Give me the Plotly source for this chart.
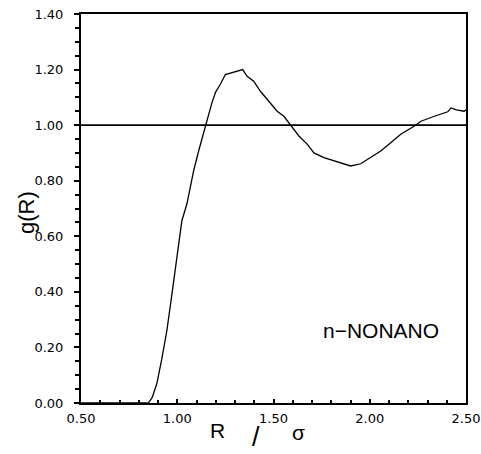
import plotly.graph_objects as go

# g(R)
r_vals = [0.50, 0.60, 0.70, 0.80, 0.85, 0.87, 0.894, 0.92, 0.946, 0.972, 1.00, 1.024,
          1.05, 1.085, 1.111, 1.146, 1.18, 1.20, 1.224, 1.25, 1.276, 1.31, 1.34, 1.363,
          1.397, 1.432, 1.476, 1.519, 1.554, 1.589, 1.632, 1.676, 1.71, 1.762, 1.831,
          1.87, 1.901, 1.953, 2.005, 2.057, 2.109, 2.161, 2.23, 2.266, 2.336, 2.405,
          2.422, 2.45, 2.49, 2.50]
g_vals = [0.0, 0.0, 0.0, 0.0, 0.0, 0.02, 0.07, 0.16, 0.26, 0.39, 0.53, 0.656,
          0.716, 0.835, 0.907, 1.0, 1.08, 1.12, 1.147, 1.182, 1.188, 1.195, 1.20, 1.176,
          1.158, 1.122, 1.086, 1.05, 1.032, 1.002, 0.961, 0.931, 0.90, 0.883, 0.868,
          0.862, 0.853, 0.861, 0.883, 0.907, 0.937, 0.967, 0.996, 1.014, 1.032, 1.048,
          1.062, 1.055, 1.05, 1.055]

ref_x = [0.50, 2.50]
ref_y = [1.0, 1.0]

x_ticks = [0.5, 1.0, 1.5, 2.0, 2.5]
y_ticks = [0.0, 0.2, 0.4, 0.6, 0.8, 1.0, 1.2, 1.4]

font = "DejaVu Sans"

fig = go.Figure()
fig.add_trace(go.Scatter(x=ref_x, y=ref_y, mode="lines",
                         line=dict(color="black", width=1.8), showlegend=False))
fig.add_trace(go.Scatter(x=r_vals, y=g_vals, mode="lines",
                         line=dict(color="black", width=1.3), showlegend=False))

fig.update_layout(
    width=481, height=454,
    margin=dict(l=81, r=15, t=14, b=51),
    paper_bgcolor="white", plot_bgcolor="white",
    font=dict(family=font, color="black", size=13),
    xaxis=dict(range=[0.5, 2.5], tickvals=x_ticks, ticktext=["0.50", "1.00", "1.50", "2.00", "2.50"],
               showgrid=False, zeroline=False, showline=True, linecolor="black", linewidth=2,
               mirror=True, ticks="inside", ticklen=4, tickwidth=1.5, tickcolor="black",
               automargin=False, ticklabelstandoff=2,
               minor=dict(dtick=0.1, ticks="inside", ticklen=3, tickcolor="black")),
    yaxis=dict(range=[0, 1.4], tickvals=y_ticks,
               ticktext=["0.00", "0.20", "0.40", "0.60", "0.80", "1.00", "1.20", "1.40"],
               showgrid=False, zeroline=False, showline=True, linecolor="black", linewidth=2,
               mirror=True, ticks="outside", ticklen=5, tickwidth=1.5, tickcolor="black",
               automargin=False, ticklabelstandoff=8,
               minor=dict(dtick=0.05, ticks="outside", ticklen=4, tickcolor="black")),
)

# axis titles placed by hand, like the original drawing
fig.add_annotation(text="R", x=1.21, y=-0.106, xref="x", yref="paper", showarrow=False,
                   font=dict(family="Liberation Sans", size=21))
fig.add_annotation(text="/", x=1.41, y=-0.13, xref="x", yref="paper", showarrow=False,
                   font=dict(family="Liberation Sans", size=27))
fig.add_annotation(text="σ", x=1.63, y=-0.111, xref="x", yref="paper", showarrow=False,
                   font=dict(family="Liberation Sans", size=21))
fig.add_annotation(text="g(R)", x=-0.179, y=0.49, xref="paper", yref="paper", showarrow=False,
                   textangle=-90, font=dict(family="Liberation Sans", size=22))
fig.add_annotation(text="n−NONANO", x=2.06, y=0.26, xref="x", yref="y", showarrow=False,
                   font=dict(family="Liberation Sans", size=21))

fig.write_html("out.html", config={"displayModeBar": False},
               post_script="document.body.style.margin='0';")
